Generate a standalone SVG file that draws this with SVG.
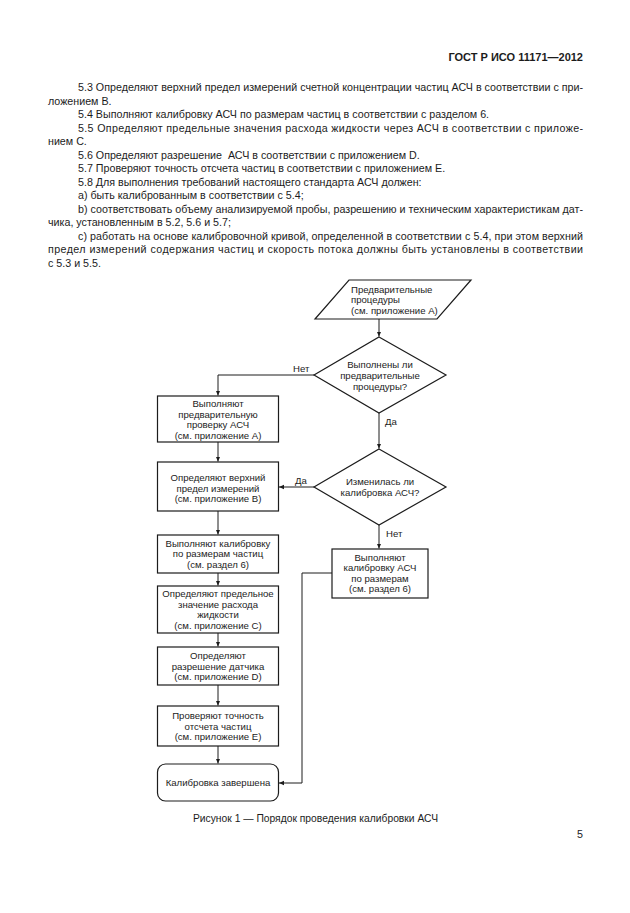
<svg xmlns="http://www.w3.org/2000/svg" width="630" height="913" viewBox="0 0 630 913">
<style>
text{font-family:"Liberation Sans",Arial,sans-serif;fill:#1c1c1c}
.hdr{font-size:11px;font-weight:bold}
.body{font-size:10.7px}
.cap{font-size:10.3px}
.fc{font-size:9.6px}
.c{text-anchor:middle}
.shape{fill:#fff;stroke:#1c1c1c;stroke-width:1.2}
.conn{fill:none;stroke:#1c1c1c;stroke-width:1}
</style>
<defs>
<marker id="arr" markerWidth="6" markerHeight="6" refX="5" refY="3" orient="auto" markerUnits="userSpaceOnUse">
<path d="M0,0.8 L5,3 L0,5.2 Z" fill="#1c1c1c"/>
</marker>
</defs>
<rect width="630" height="913" fill="#fff"/>
<text class="hdr" x="583" y="61" text-anchor="end">ГОСТ Р ИСО 11171—2012</text>
<g class="body">
<text x="78" y="91" textLength="505" lengthAdjust="spacing">5.3 Определяют верхний предел измерений счетной концентрации частиц АСЧ в соответствии с при-</text>
<text x="48" y="104.5">ложением В.</text>
<text x="78" y="118">5.4 Выполняют калибровку АСЧ по размерам частиц в соответствии с разделом 6.</text>
<text x="78" y="131.5" textLength="505" lengthAdjust="spacing">5.5 Определяют предельные значения расхода жидкости через АСЧ в соответствии с приложе-</text>
<text x="48" y="145">нием С.</text>
<text x="78" y="158.5" xml:space="preserve">5.6 Определяют разрешение  АСЧ в соответствии с приложением D.</text>
<text x="78" y="172">5.7 Проверяют точность отсчета частиц в соответствии с приложением Е.</text>
<text x="78" y="185.5">5.8 Для выполнения требований настоящего стандарта АСЧ должен:</text>
<text x="78" y="199">a) быть калиброванным в соответствии с 5.4;</text>
<text x="78" y="212.5" textLength="505" lengthAdjust="spacing">b) соответствовать объему анализируемой пробы, разрешению и техническим характеристикам дат-</text>
<text x="48" y="226">чика, установленным в 5.2, 5.6 и 5.7;</text>
<text x="78" y="239.5" textLength="505" lengthAdjust="spacing">c) работать на основе калибровочной кривой, определенной в соответствии с 5.4, при этом верхний</text>
<text x="48" y="253" textLength="535" lengthAdjust="spacing">предел измерений содержания частиц и скорость потока должны быть установлены в соответствии</text>
<text x="48" y="266.5">с 5.3 и 5.5.</text>
</g>
<g id="connectors">
<path class="conn" d="M379,319 V336.5" marker-end="url(#arr)"/>
<path class="conn" d="M314,375 H218 V395.5" marker-end="url(#arr)"/>
<path class="conn" d="M379,413 V448.5" marker-end="url(#arr)"/>
<path class="conn" d="M314,487 H279" marker-end="url(#arr)"/>
<path class="conn" d="M379,525 V548.5" marker-end="url(#arr)"/>
<path class="conn" d="M218,442 V461.5" marker-end="url(#arr)"/>
<path class="conn" d="M218,511 V534.5" marker-end="url(#arr)"/>
<path class="conn" d="M218,573 V585.5" marker-end="url(#arr)"/>
<path class="conn" d="M218,633 V646.5" marker-end="url(#arr)"/>
<path class="conn" d="M218,685 V705.5" marker-end="url(#arr)"/>
<path class="conn" d="M218,746 V763.5" marker-end="url(#arr)"/>
<path class="conn" d="M332,573 H302 V783 H279" marker-end="url(#arr)"/>
<text class="fc" x="293" y="372">Нет</text>
<text class="fc" x="385" y="425">Да</text>
<text class="fc" x="295" y="483.5">Да</text>
<text class="fc" x="386" y="537">Нет</text>
</g>
<g id="start">
<polygon class="shape" points="349,280 471,280 437,319 315,319"/>
<text class="fc" x="351" y="292.5">Предварительные</text>
<text class="fc" x="351" y="303">процедуры</text>
<text class="fc" x="351" y="313.5">(см. приложение А)</text>
</g>
<g id="dec1">
<polygon class="shape" points="379,337 446,375 379,413 314,375"/>
<text class="fc c" x="380" y="367.5">Выполнены ли</text>
<text class="fc c" x="380" y="378.5">предварительные</text>
<text class="fc c" x="380" y="389.5">процедуры?</text>
</g>
<g id="box1">
<rect class="shape" x="157.5" y="396" width="121" height="46"/>
<text class="fc c" x="218" y="407">Выполняют</text>
<text class="fc c" x="218" y="417.5">предварительную</text>
<text class="fc c" x="218" y="428">проверку АСЧ</text>
<text class="fc c" x="218" y="438.5">(см. приложение А)</text>
</g>
<g id="dec2">
<polygon class="shape" points="379,449 446,487 379,525 314,487"/>
<text class="fc c" x="380" y="485">Изменилась ли</text>
<text class="fc c" x="380" y="496">калибровка АСЧ?</text>
</g>
<g id="box2">
<rect class="shape" x="157.5" y="462" width="121" height="49"/>
<text class="fc c" x="218" y="480.5">Определяют верхний</text>
<text class="fc c" x="218" y="491.5">предел измерений</text>
<text class="fc c" x="218" y="502">(см. приложение В)</text>
</g>
<g id="boxR">
<rect class="shape" x="332" y="549" width="96" height="49"/>
<text class="fc c" x="380" y="560.5">Выполняют</text>
<text class="fc c" x="380" y="571">калибровку АСЧ</text>
<text class="fc c" x="380" y="581.5">по размерам</text>
<text class="fc c" x="380" y="592">(см. раздел 6)</text>
</g>
<g id="box3">
<rect class="shape" x="157.5" y="535" width="121" height="38"/>
<text class="fc c" x="218" y="546.5">Выполняют калибровку</text>
<text class="fc c" x="218" y="557">по размерам частиц</text>
<text class="fc c" x="218" y="567.5">(см. раздел 6)</text>
</g>
<g id="box4">
<rect class="shape" x="157.5" y="586" width="121" height="47"/>
<text class="fc c" x="218" y="597">Определяют предельное</text>
<text class="fc c" x="218" y="607.5">значение расхода</text>
<text class="fc c" x="218" y="618">жидкости</text>
<text class="fc c" x="218" y="628.5">(см. приложение С)</text>
</g>
<g id="box5">
<rect class="shape" x="157.5" y="647" width="121" height="38"/>
<text class="fc c" x="218" y="659">Определяют</text>
<text class="fc c" x="218" y="669.5">разрешение датчика</text>
<text class="fc c" x="218" y="680">(см. приложение D)</text>
</g>
<g id="box6">
<rect class="shape" x="157.5" y="706" width="121" height="40"/>
<text class="fc c" x="218" y="719">Проверяют точность</text>
<text class="fc c" x="218" y="729.5">отсчета частиц</text>
<text class="fc c" x="218" y="740">(см. приложение Е)</text>
</g>
<g id="end">
<rect class="shape" x="157.5" y="764" width="121" height="37" rx="8"/>
<text class="fc c" x="218" y="786">Калибровка завершена</text>
</g>
<text class="cap c" x="315.5" y="822">Рисунок 1 — Порядок проведения калибровки АСЧ</text>
<text class="body" x="583" y="838" text-anchor="end">5</text>
</svg>
